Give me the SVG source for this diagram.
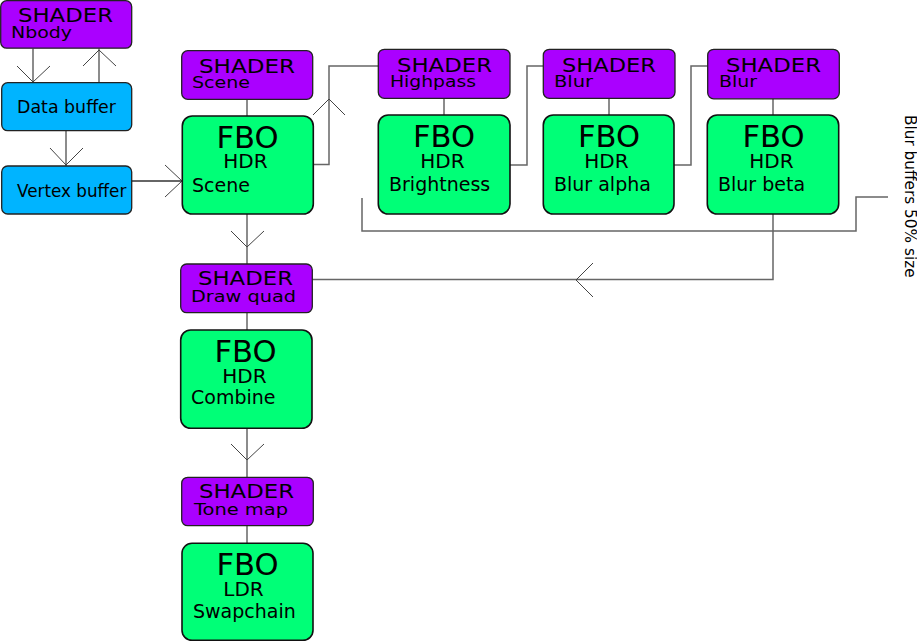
<svg xmlns="http://www.w3.org/2000/svg" width="917" height="642" viewBox="0 0 917 642">
<style>
.sh{fill:#aa00ff;stroke:#222;stroke-width:1.3}
.buf{fill:#00b4ff;stroke:#222;stroke-width:1.3}
.fbo{fill:#00ff77;stroke:#111;stroke-width:1.6}
text{font-family:"DejaVu Sans",Verdana,sans-serif;fill:#000}
.t1{font-size:20px}
.t2{font-size:16px}
.big{font-size:30.6px;text-anchor:middle}
.mid{font-size:20px;text-anchor:middle}
.lab{font-size:19px}
.ln{fill:none;stroke:#666;stroke-width:1.5}
.ah{fill:none;stroke:#444;stroke-width:1}
</style>
<rect width="917" height="642" fill="#fff"/>
<g id="connectors">
<path class="ln" d="M33,48.5V82.7"/><path class="ah" d="M17,66L33,82L50,66"/>
<path class="ln" d="M99,82.7V48.5"/><path class="ah" d="M83,66L99,50L116,66"/>
<path class="ln" d="M66,130.7V166"/><path class="ah" d="M50,148L66,165L83,148"/>
<path class="ln" d="M131.7,181H182.3" style="stroke:#333"/><path class="ah" d="M165,165L182,181L165,197"/>
<path class="ln" d="M247,99.3V116"/>
<path class="ln" d="M313.3,164.5H329V66H378.3"/><path class="ah" d="M313,115L329,99L345,115"/>
<path class="ln" d="M444,98.3V115"/>
<path class="ln" d="M510,165H527V66H543.3"/>
<path class="ln" d="M609,98.3V115"/>
<path class="ln" d="M674,165H691V66H707.7"/>
<path class="ln" d="M773,98.8V115"/>
<path class="ln" d="M362,198V231H856V197H888"/>
<path class="ln" d="M773,214V279.5H312.3"/><path class="ah" d="M593,263L576,280L593,297"/>
<path class="ln" d="M247,214V264"/><path class="ah" d="M231,231L247,247L264,231"/>
<path class="ln" d="M247,312.7V330"/>
<path class="ln" d="M247,428.3V477.3"/><path class="ah" d="M231,444L247,460L264,444"/>
<path class="ln" d="M247,525.7V543.3"/>
</g>
<g id="shader-nbody"><rect class="sh" x="0.7" y="0.7" width="131" height="47.5" rx="6"/>
<text class="t1" x="18" y="21.5" textLength="95" lengthAdjust="spacingAndGlyphs">SHADER</text>
<text class="t2" x="11" y="37.5" textLength="61" lengthAdjust="spacingAndGlyphs">Nbody</text></g>
<g id="data-buffer"><rect class="buf" x="1.7" y="82.7" width="130" height="48" rx="6"/>
<text x="66.5" y="113.3" font-size="17.4" text-anchor="middle">Data buffer</text></g>
<g id="vertex-buffer"><rect class="buf" x="1.7" y="166" width="130" height="48" rx="6"/>
<text x="17" y="197.3" font-size="16.8">Vertex buffer</text></g>
<g id="shader-scene"><rect class="sh" x="181.7" y="50.7" width="131" height="48.6" rx="6"/>
<text class="t1" x="199" y="72.5" textLength="96" lengthAdjust="spacingAndGlyphs">SHADER</text>
<text class="t2" x="192" y="88.3" textLength="58" lengthAdjust="spacingAndGlyphs">Scene</text></g>
<g id="fbo-scene"><rect class="fbo" x="182.3" y="116" width="131" height="98" rx="10"/>
<text class="big" x="247.5" y="148">FBO</text><text class="mid" x="245.5" y="168.3">HDR</text>
<text class="lab" x="192" y="191.7">Scene</text></g>
<g id="shader-highpass"><rect class="sh" x="378.3" y="49.3" width="131.7" height="49" rx="6"/>
<text class="t1" x="397" y="71.7" textLength="95" lengthAdjust="spacingAndGlyphs">SHADER</text>
<text class="t2" x="390" y="87" textLength="86" lengthAdjust="spacingAndGlyphs">Highpass</text></g>
<g id="fbo-brightness"><rect class="fbo" x="378.3" y="115" width="131.7" height="99" rx="10"/>
<text class="big" x="444" y="147">FBO</text><text class="mid" x="442.5" y="168">HDR</text>
<text class="lab" x="389" y="190.7">Brightness</text></g>
<g id="shader-blur1"><rect class="sh" x="543.3" y="49.3" width="131.7" height="49" rx="6"/>
<text class="t1" x="562" y="71.7" textLength="94" lengthAdjust="spacingAndGlyphs">SHADER</text>
<text class="t2" x="554" y="87" textLength="39" lengthAdjust="spacingAndGlyphs">Blur</text></g>
<g id="fbo-blur-alpha"><rect class="fbo" x="543.3" y="115" width="130.7" height="99" rx="10"/>
<text class="big" x="609" y="147">FBO</text><text class="mid" x="606.5" y="168">HDR</text>
<text class="lab" x="554" y="190.7">Blur alpha</text></g>
<g id="shader-blur2"><rect class="sh" x="707.7" y="49.3" width="131.6" height="49.5" rx="6"/>
<text class="t1" x="726" y="71.7" textLength="95" lengthAdjust="spacingAndGlyphs">SHADER</text>
<text class="t2" x="719" y="87" textLength="38" lengthAdjust="spacingAndGlyphs">Blur</text></g>
<g id="fbo-blur-beta"><rect class="fbo" x="707.3" y="115" width="131.4" height="99" rx="10"/>
<text class="big" x="773.5" y="147">FBO</text><text class="mid" x="771.5" y="168">HDR</text>
<text class="lab" x="718" y="190.7">Blur beta</text></g>
<g id="shader-drawquad"><rect class="sh" x="180.7" y="264" width="131.6" height="48.7" rx="6"/>
<text class="t1" x="198" y="285.3" textLength="95" lengthAdjust="spacingAndGlyphs">SHADER</text>
<text class="t2" x="191" y="301.7" textLength="105" lengthAdjust="spacingAndGlyphs">Draw quad</text></g>
<g id="fbo-combine"><rect class="fbo" x="180.7" y="330" width="131.3" height="98.3" rx="10"/>
<text class="big" x="245.5" y="362">FBO</text><text class="mid" x="244.5" y="383">HDR</text>
<text class="lab" x="191" y="404">Combine</text></g>
<g id="shader-tonemap"><rect class="sh" x="181.7" y="477.3" width="131.6" height="48.4" rx="6"/>
<text class="t1" x="199" y="498.3" textLength="95" lengthAdjust="spacingAndGlyphs">SHADER</text>
<text class="t2" x="194" y="515.3" textLength="94" lengthAdjust="spacingAndGlyphs">Tone map</text></g>
<g id="fbo-swapchain"><rect class="fbo" x="182" y="543.3" width="131" height="97" rx="10"/>
<text class="big" x="247.5" y="575">FBO</text><text class="mid" x="243.5" y="596">LDR</text>
<text class="lab" x="193" y="618">Swapchain</text></g>
<g id="note"><text transform="translate(904.5,115) rotate(90)" font-size="15.3">Blur buffers 50% size</text></g>
</svg>
